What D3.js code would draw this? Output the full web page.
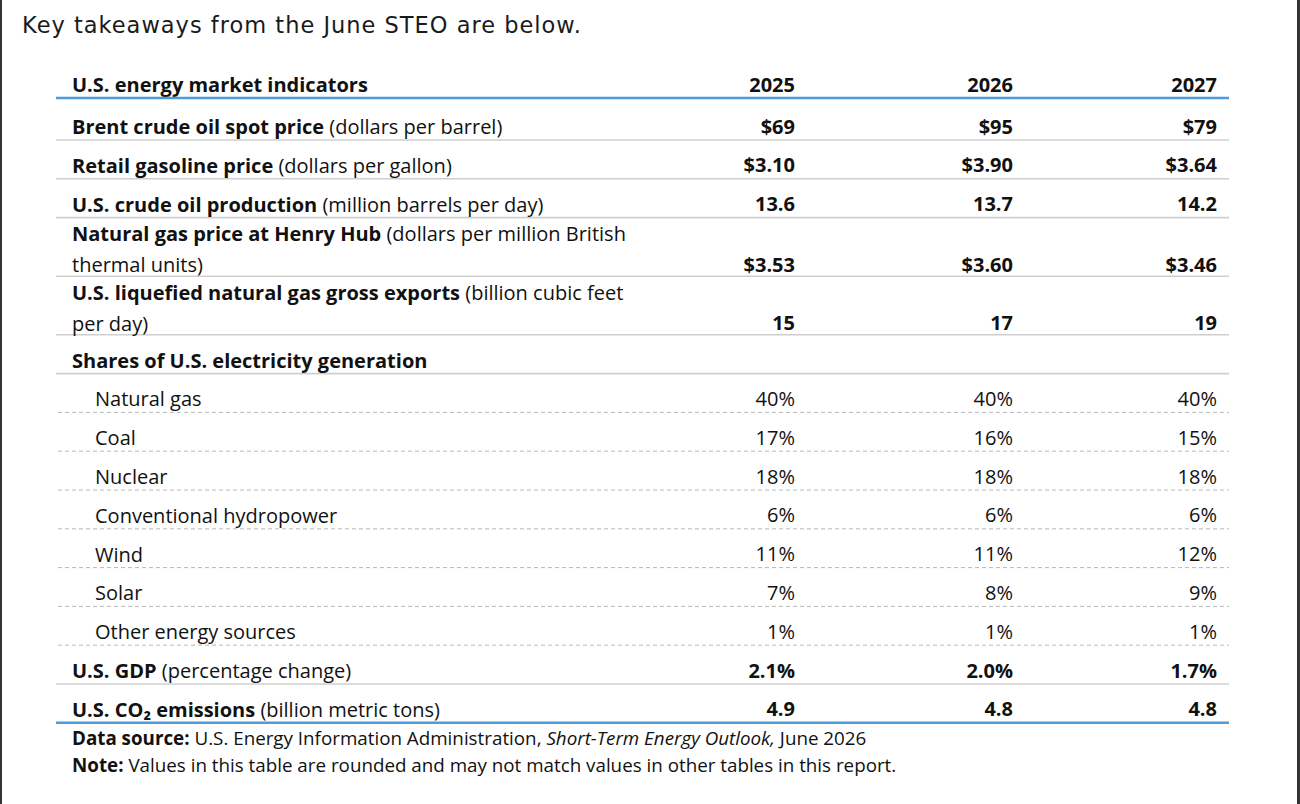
<!DOCTYPE html>
<html>
<head>
<meta charset="utf-8">
<script src="https://cdn.jsdelivr.net/npm/d3@7"></script>
<style>
  html, body { margin: 0; padding: 0; background: #fff; }
  svg { display: block; }
</style>
</head>
<body>
<svg id="table"></svg>
<script>
// Table content
const years = ['2025', '2026', '2027'];

// bold part of each row label, and the plain part ('|' marks a line break)
const rowNames = [
  'Brent crude oil spot price',
  'Retail gasoline price',
  'U.S. crude oil production',
  'Natural gas price at Henry Hub',
  'U.S. liquefied natural gas gross exports',
  'Shares of U.S. electricity generation',
  'Natural gas',
  'Coal',
  'Nuclear',
  'Conventional hydropower',
  'Wind',
  'Solar',
  'Other energy sources',
  'U.S. GDP',
  'U.S. CO₂ emissions'
];
const rowUnits = [
  ' (dollars per barrel)',
  ' (dollars per gallon)',
  ' (million barrels per day)',
  ' (dollars per million British|thermal units)',
  ' (billion cubic feet|per day)',
  '',
  '', '', '', '', '', '', '',
  ' (percentage change)',
  ' (billion metric tons)'
];
// 'main' = bold values, 'section' = heading row, 'share' = indented sub row
const rowKinds = ['main', 'main', 'main', 'main', 'main', 'section',
  'share', 'share', 'share', 'share', 'share', 'share', 'share', 'main', 'main'];

const values2025 = ['$69', '$3.10', '13.6', '$3.53', '15', '', '40%', '17%', '18%', '6%', '11%', '7%', '1%', '2.1%', '4.9'];
const values2026 = ['$95', '$3.90', '13.7', '$3.60', '17', '', '40%', '16%', '18%', '6%', '11%', '8%', '1%', '2.0%', '4.8'];
const values2027 = ['$79', '$3.64', '14.2', '$3.46', '19', '', '40%', '15%', '18%', '6%', '12%', '9%', '1%', '1.7%', '4.8'];

const title = 'Key takeaways from the June STEO are below.';
const headerLabel = 'U.S. energy market indicators';

const W = 1300, H = 804;
const FONT = '"Open Sans", Lato, sans-serif';
const FS = '20px';
const BLUE = '#4f9bd9';

const svg = d3.select('#table').attr('width', W).attr('height', H);

// page frame (left and right rules)
svg.append('rect').attr('x', 0).attr('y', 0).attr('width', 2).attr('height', H).attr('fill', '#333');
svg.append('rect').attr('x', W - 3).attr('y', 0).attr('width', 3).attr('height', H).attr('fill', '#333');

svg.append('text')
  .attr('x', 22).attr('y', 25)
  .attr('dominant-baseline', 'central')
  .style('font-family', '"DejaVu Sans", Verdana, sans-serif')
  .style('font-size', '22.5px')
  .style('letter-spacing', '1px')
  .attr('fill', '#1a1a1a')
  .text(title);

// Layout scales
const tableLeft = 56, tableRight = 1229;
const xCol = d3.scaleOrdinal().domain(years).range([795, 1013, 1217]);
const valuesByYear = { '2025': values2025, '2026': values2026, '2027': values2027 };

const rows = rowNames.map((name, i) => ({
  name,
  lines: rowUnits[i].split('|'),
  kind: rowKinds[i],
  index: i
}));

// row heights: one-line rows and two-line rows
const lineUnit = d3.scaleLinear().domain([1, 2]).range([38.8, 58.6]);
const bodyTop = 101.2;
const bottoms = d3.cumsum(rows, r => lineUnit(r.lines.length)).map(v => bodyTop + v);
rows.forEach((r, i) => { r.bottom = bottoms[i]; });

// Header row
const headerY = 84;
svg.append('text')
  .attr('x', 72).attr('y', headerY)
  .attr('dominant-baseline', 'central')
  .style('font-family', FONT).style('font-size', FS).style('font-weight', 700)
  .attr('fill', '#111')
  .text(headerLabel);

svg.selectAll('.year')
  .data(years)
  .enter()
  .append('text')
  .attr('class', 'year')
  .attr('x', d => xCol(d)).attr('y', headerY)
  .attr('text-anchor', 'end')
  .attr('dominant-baseline', 'central')
  .style('font-family', FONT).style('font-size', FS).style('font-weight', 700)
  .attr('fill', '#111')
  .text(d => d);

svg.append('line')
  .attr('x1', tableLeft).attr('x2', tableRight)
  .attr('y1', 98).attr('y2', 98)
  .attr('stroke', BLUE).attr('stroke-width', 2.6);

// Row separators
const lastIndex = rows.length - 1;
svg.selectAll('.sep')
  .data(rows)
  .enter()
  .append('line')
  .attr('class', 'sep')
  .attr('x1', d => d.kind === 'share' ? tableLeft + 2 : tableLeft)
  .attr('x2', tableRight)
  .attr('y1', d => d.bottom).attr('y2', d => d.bottom)
  .attr('stroke', d => d.index === lastIndex ? BLUE : (d.kind === 'share' ? '#b8b8b8' : '#cfcfcf'))
  .attr('stroke-width', d => d.index === lastIndex ? 2.6 : (d.kind === 'share' ? 1 : 1.6))
  .attr('stroke-dasharray', d => d.kind === 'share' ? '4,3' : null);

// Row labels
const lineGap = 31;
const label = svg.selectAll('.label')
  .data(rows)
  .enter()
  .append('g')
  .attr('class', 'label');

label.each(function(d) {
  const g = d3.select(this);
  const n = d.lines.length;
  d.lines.forEach((unit, k) => {
    const y = d.bottom - (n === 1 ? 14 : 12) - (n - 1 - k) * lineGap;
    const t = g.append('text')
      .attr('x', d.kind === 'share' ? 95 : 72)
      .attr('y', y)
      .attr('dominant-baseline', 'central')
      .style('font-family', FONT).style('font-size', FS)
      .attr('fill', '#111');
    if (k === 0) {
      t.append('tspan')
        .style('font-weight', d.kind === 'share' ? 400 : 700)
        .text(d.name);
    }
    if (unit) t.append('tspan').style('font-weight', 400).text(unit);
  });
});

// Values
years.forEach(year => {
  svg.selectAll(`.v${year}`)
    .data(rows)
    .enter()
    .append('text')
    .attr('class', `v${year}`)
    .attr('x', xCol(year))
    .attr('y', d => d.bottom - (d.lines.length === 1 ? 14 : 12))
    .attr('text-anchor', 'end')
    .attr('dominant-baseline', 'central')
    .style('font-family', FONT).style('font-size', FS)
    .style('font-weight', d => d.kind === 'share' ? 400 : 700)
    .attr('fill', '#111')
    .text(d => valuesByYear[year][d.index]);
});

// Footnotes
const FOOT = '18.8px';
const foot1 = svg.append('text')
  .attr('x', 72).attr('y', 738)
  .attr('dominant-baseline', 'central')
  .style('font-family', FONT).style('font-size', FOOT)
  .attr('fill', '#111');
foot1.append('tspan').style('font-weight', 700).text('Data source:');
foot1.append('tspan').text(' U.S. Energy Information Administration, ');
foot1.append('tspan').style('font-style', 'italic').text('Short-Term Energy Outlook,');
foot1.append('tspan').text(' June 2026');

const foot2 = svg.append('text')
  .attr('x', 72).attr('y', 765)
  .attr('dominant-baseline', 'central')
  .style('font-family', FONT).style('font-size', FOOT)
  .attr('fill', '#111');
foot2.append('tspan').style('font-weight', 700).text('Note:');
foot2.append('tspan').text(' Values in this table are rounded and may not match values in other tables in this report.');
</script>
</body>
</html>
